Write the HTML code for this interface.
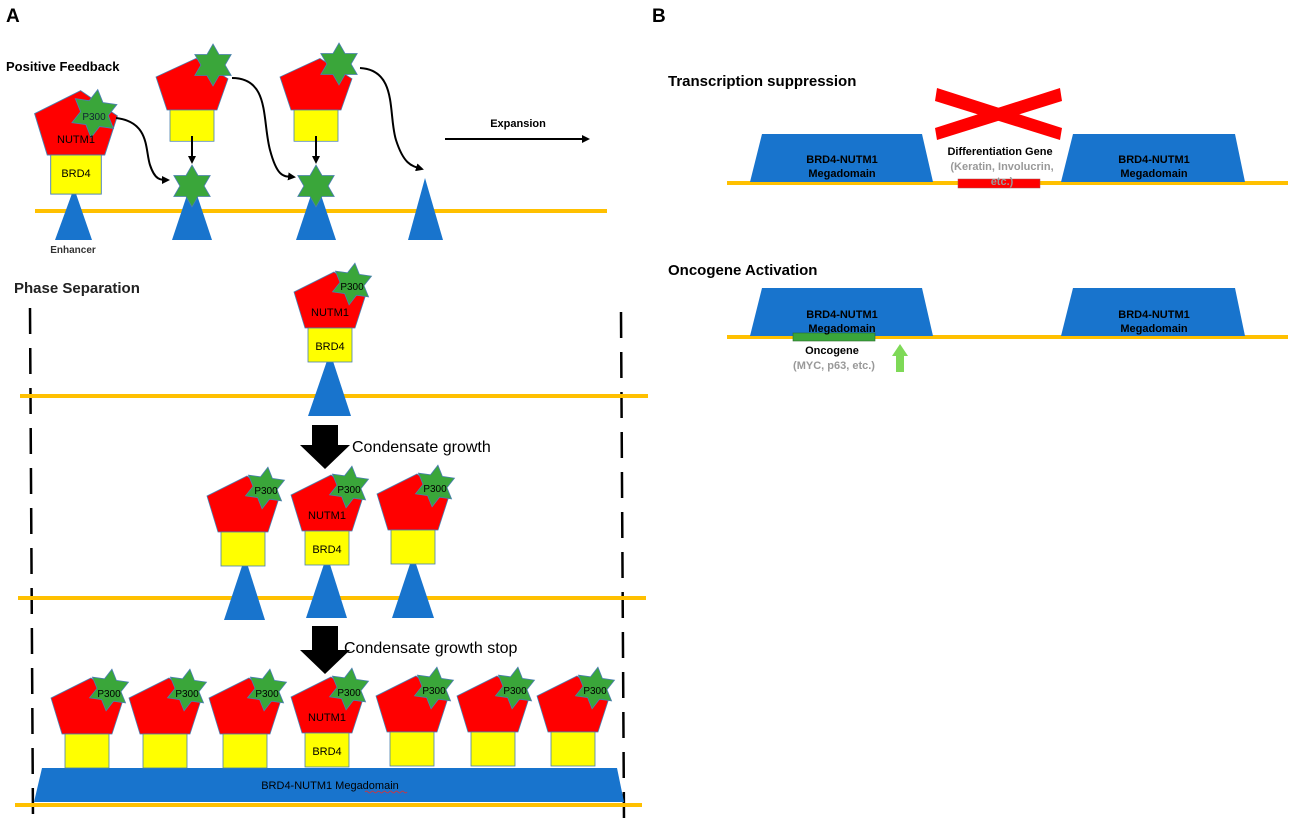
<!DOCTYPE html>
<html><head><meta charset="utf-8"><style>
html,body{margin:0;padding:0;background:#fff;}
svg{display:block;font-family:"Liberation Sans",sans-serif;}
</style></head><body>
<svg width="1295" height="832" viewBox="0 0 1295 832" xmlns="http://www.w3.org/2000/svg">
<defs>
<polygon id="st" points="0,-21 6,-10.5 18.2,-10.5 12.1,0 18.2,10.5 6,10.5 0,21 -6,10.5 -18.2,10.5 -12.1,0 -18.2,-10.5 -6,-10.5" fill="#3aa63a" stroke="#4a7fb0" stroke-width="0.8"/>
<g id="u">
<polygon points="-25,0 25,0 36,-34 4,-56 -36,-36" fill="#ff0000" stroke="#4a7fb0" stroke-width="0.8"/>
<rect x="-22" y="0" width="44" height="34" fill="#ffff00" stroke="#4a7fb0" stroke-width="0.8"/>
<use href="#st" transform="translate(22,-44) rotate(8)"/>
</g>
<g id="u0">
<polygon points="-25,0 25,0 36,-34 4,-56 -36,-36" fill="#ff0000" stroke="#4a7fb0" stroke-width="0.8"/>
<rect x="-22" y="0" width="44" height="34" fill="#ffff00" stroke="#4a7fb0" stroke-width="0.8"/>
</g>
<marker id="ah" markerWidth="8" markerHeight="8" refX="6" refY="4" orient="auto" markerUnits="userSpaceOnUse"><path d="M0,0 L8,4 L0,8 Z" fill="#000"/></marker>
</defs>

<text x="6" y="22" font-size="19" font-weight="bold">A</text>
<text x="652" y="22" font-size="19" font-weight="bold">B</text>

<!-- Positive feedback -->
<text x="6" y="71" font-size="13" font-weight="bold">Positive Feedback</text>
<line x1="35" y1="211" x2="607" y2="211" stroke="#ffc000" stroke-width="4"/>
<polygon points="55,240 92,240 74,188" fill="#1874cd"/>
<polygon points="172,240 212,240 192,180" fill="#1874cd"/>
<polygon points="296,240 336,240 316,180" fill="#1874cd"/>
<polygon points="408,240 443,240 425,178" fill="#1874cd"/>
<g transform="translate(76,155) scale(1.15)"><use href="#u0"/><use href="#st" transform="translate(16,-36) rotate(8)"/></g>
<text x="76" y="143" font-size="11" text-anchor="middle">NUTM1</text>
<text x="76" y="177" font-size="11" text-anchor="middle">BRD4</text>
<text x="94" y="120" font-size="10" text-anchor="middle" fill="#123">P300</text>
<text x="73" y="253" font-size="10" text-anchor="middle" font-weight="bold" fill="#333">Enhancer</text>
<g transform="translate(192,110) scale(1,0.92)"><use href="#u0"/></g>
<use href="#st" x="213" y="65"/>
<g transform="translate(316,110) scale(1,0.92)"><use href="#u0"/></g>
<use href="#st" x="339" y="64"/>
<use href="#st" transform="translate(192,186)"/>
<use href="#st" transform="translate(316,186)"/>
<line x1="192" y1="136" x2="192" y2="162" stroke="#000" stroke-width="2" marker-end="url(#ah)"/>
<line x1="316" y1="136" x2="316" y2="162" stroke="#000" stroke-width="2" marker-end="url(#ah)"/>
<path d="M116,118 C150,122 145,150 150,165 S160,180 168,180" fill="none" stroke="#000" stroke-width="2" marker-end="url(#ah)"/>
<path d="M232,78 C270,78 262,120 270,150 S285,176 294,177" fill="none" stroke="#000" stroke-width="2" marker-end="url(#ah)"/>
<path d="M360,68 C398,70 388,115 396,140 S412,166 422,169" fill="none" stroke="#000" stroke-width="2" marker-end="url(#ah)"/>
<line x1="445" y1="139" x2="588" y2="139" stroke="#000" stroke-width="2" marker-end="url(#ah)"/>
<text x="518" y="127" font-size="11" font-weight="bold" text-anchor="middle">Expansion</text>

<!-- Phase separation -->
<text x="14" y="293" font-size="15" font-weight="bold" fill="#222">Phase Separation</text>
<line x1="30" y1="308" x2="33" y2="822" stroke="#000" stroke-width="2.5" stroke-dasharray="26,14"/>
<line x1="621" y1="312" x2="624" y2="822" stroke="#000" stroke-width="2.5" stroke-dasharray="26,14"/>

<line x1="20" y1="396" x2="648" y2="396" stroke="#ffc000" stroke-width="4"/>
<polygon points="308,416 351,416 330,352" fill="#1874cd"/>
<use href="#u" x="330" y="328"/>
<text x="330" y="316" font-size="11" text-anchor="middle">NUTM1</text>
<text x="330" y="350" font-size="11" text-anchor="middle">BRD4</text>
<text x="352" y="290" font-size="10" text-anchor="middle">P300</text>

<polygon points="312,428 312,448 300,448 325,472 350,448 338,448 338,428" fill="#000" transform="translate(0,-3)"/>
<text x="352" y="452" font-size="16">Condensate growth</text>

<line x1="18" y1="598" x2="646" y2="598" stroke="#ffc000" stroke-width="4"/>
<polygon points="224,620 265,620 245,557" fill="#1874cd"/>
<polygon points="306,618 347,618 327,555" fill="#1874cd"/>
<polygon points="392,618 434,618 413,555" fill="#1874cd"/>
<use href="#u" x="243" y="532"/>
<use href="#u" x="327" y="531"/>
<use href="#u" x="413" y="530"/>
<text x="327" y="519" font-size="11" text-anchor="middle">NUTM1</text>
<text x="327" y="553" font-size="11" text-anchor="middle">BRD4</text>
<text x="266" y="494" font-size="10" text-anchor="middle">P300</text>
<text x="349" y="493" font-size="10" text-anchor="middle">P300</text>
<text x="435" y="492" font-size="10" text-anchor="middle">P300</text>

<polygon points="312,628 312,652 300,652 325,676 350,652 338,652 338,628" fill="#000" transform="translate(0,-2)"/>
<text x="344" y="653" font-size="16">Condensate growth stop</text>

<line x1="15" y1="805" x2="642" y2="805" stroke="#ffc000" stroke-width="4"/>
<polygon points="42,768 617,768 624,802 34,802" fill="#1874cd"/>
<use href="#u" x="87" y="734"/>
<use href="#u" x="165" y="734"/>
<use href="#u" x="245" y="734"/>
<use href="#u" x="327" y="733"/>
<use href="#u" x="412" y="732"/>
<use href="#u" x="493" y="732"/>
<use href="#u" x="573" y="732"/>
<text x="327" y="721" font-size="11" text-anchor="middle">NUTM1</text>
<text x="327" y="755" font-size="11" text-anchor="middle">BRD4</text>
<g font-size="10" text-anchor="middle">
<text x="109" y="697">P300</text><text x="187" y="697">P300</text><text x="267" y="697">P300</text>
<text x="349" y="696">P300</text><text x="434" y="694">P300</text><text x="515" y="694">P300</text><text x="595" y="694">P300</text>
</g>
<text x="330" y="789" font-size="11" text-anchor="middle">BRD4-NUTM1 Megadomain</text>
<path d="M365,792 q1.5,-2 3,0 t3,0 t3,0 t3,0 t3,0 t3,0 t3,0 t3,0 t3,0 t3,0 t3,0 t3,0 t3,0 t3,0" fill="none" stroke="#e03030" stroke-width="0.8"/>

<!-- Panel B -->
<text x="668" y="86" font-size="15" font-weight="bold">Transcription suppression</text>
<line x1="727" y1="183" x2="1288" y2="183" stroke="#ffc000" stroke-width="4"/>
<polygon points="762,134 922,134 933,182 750,182" fill="#1874cd"/>
<polygon points="1073,134 1235,134 1245,182 1061,182" fill="#1874cd"/>
<rect x="958" y="179" width="82" height="9" fill="#ff0000" stroke="#a05050" stroke-width="0.5"/>
<polygon points="935,101 1060,140 1062,128 937,88" fill="#ff0000"/>
<polygon points="935,128 937,140 1062,101 1060,88" fill="#ff0000"/>
<g font-size="11" font-weight="bold" text-anchor="middle">
<text x="842" y="163">BRD4-NUTM1</text><text x="842" y="177">Megadomain</text>
<text x="1154" y="163">BRD4-NUTM1</text><text x="1154" y="177">Megadomain</text>
<text x="1000" y="155">Differentiation Gene</text>
<text x="1002" y="170" fill="#999">(Keratin, Involucrin,</text>
<text x="1002" y="185" fill="#999">etc.)</text>
</g>

<text x="668" y="275" font-size="15" font-weight="bold">Oncogene Activation</text>
<line x1="727" y1="337" x2="1288" y2="337" stroke="#ffc000" stroke-width="4"/>
<polygon points="762,288 922,288 933,336 750,336" fill="#1874cd"/>
<polygon points="1073,288 1235,288 1245,336 1061,336" fill="#1874cd"/>
<rect x="793" y="333" width="82" height="8" fill="#3aa63a" stroke="#2a6a2a" stroke-width="0.6"/>
<polygon points="900,344 908,356 904,356 904,372 896,372 896,356 892,356" fill="#7ed957"/>
<g font-size="11" font-weight="bold" text-anchor="middle">
<text x="842" y="318">BRD4-NUTM1</text><text x="842" y="332">Megadomain</text>
<text x="1154" y="318">BRD4-NUTM1</text><text x="1154" y="332">Megadomain</text>
<text x="832" y="354">Oncogene</text>
<text x="834" y="369" fill="#999">(MYC, p63, etc.)</text>
</g>
</svg>
</body></html>
